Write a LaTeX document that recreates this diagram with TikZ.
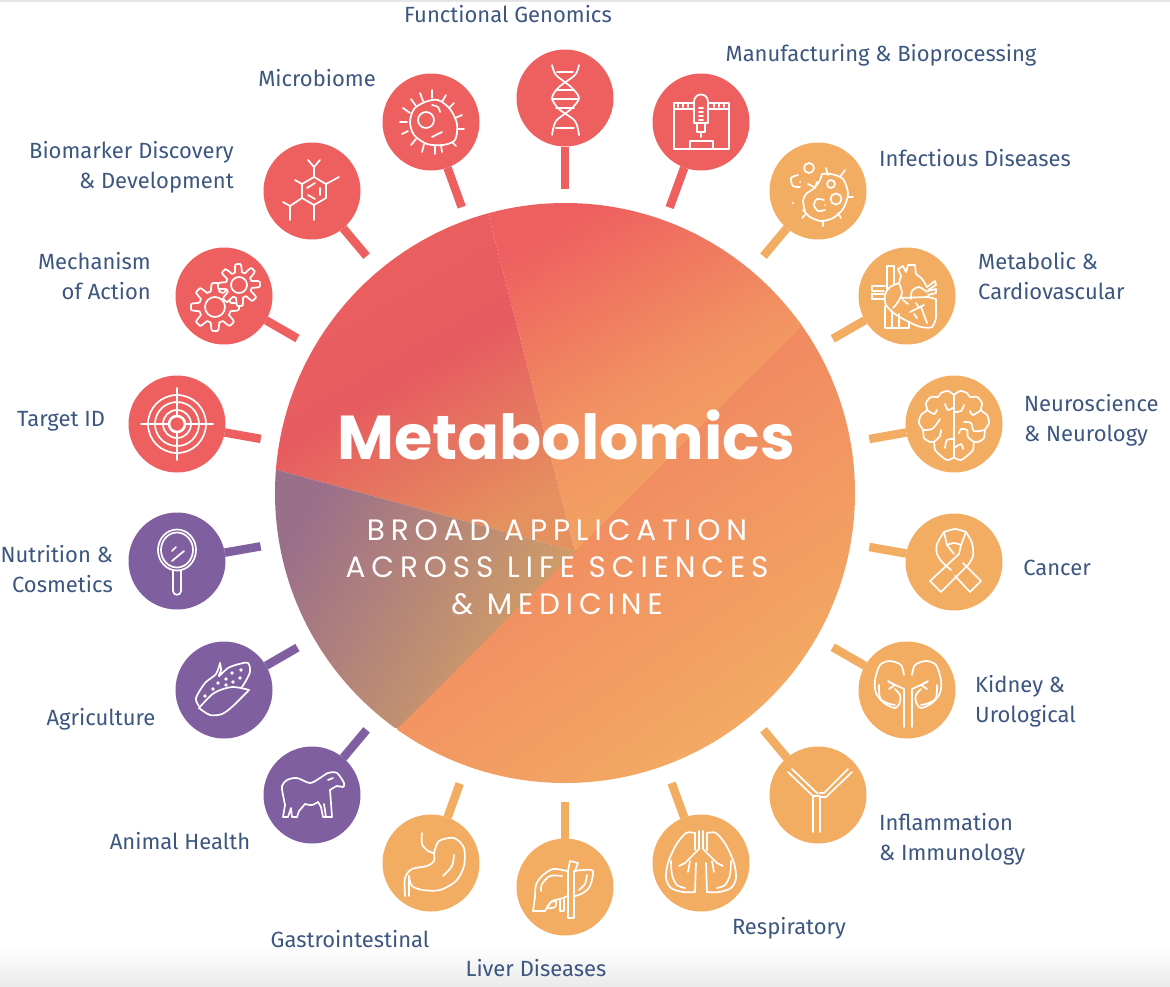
\documentclass[tikz,border=0pt]{standalone}
\usepackage{fontspec}
\setmainfont{Fira Sans}
\newfontfamily\titlefont{Poppins}
\newfontfamily\widefont[LetterSpace=20]{Poppins}

\begin{document}
\begin{tikzpicture}[x=1pt,y=-1pt]

\definecolor{redc}{HTML}{EE5F5F} % coral
\definecolor{ambc}{HTML}{F3AD63} % amber
\definecolor{plmc}{HTML}{7F5FA0} % plum
\definecolor{txtc}{HTML}{3C5680} % slate blue
\definecolor{wedgea}{HTML}{E65C60} % dull red
\definecolor{wedgeb}{HTML}{E5905F} % dull orange
\definecolor{wedgec}{HTML}{9A6F8A} % grey plum
\definecolor{wedged}{HTML}{D8A262} % tan

\tikzstyle{hub}=[circle,minimum size=580,inner sep=0,outer sep=0]
\tikzstyle{spot}=[circle,minimum size=97,inner sep=0,outer sep=0]
\tikzstyle{redspot}=[spot,fill=redc]
\tikzstyle{ambspot}=[spot,fill=ambc]
\tikzstyle{plmspot}=[spot,fill=plmc]

\tikzstyle{stem}=[line width=8.5,shorten >=19]
\tikzstyle{redstem}=[stem,color=redc]
\tikzstyle{ambstem}=[stem,color=ambc]
\tikzstyle{plmstem}=[stem,color=plmc]

\tikzstyle{tag}=[text=txtc,inner sep=0,align=center,
	font=\fontsize{22}{30}\selectfont]
\tikzstyle{icon}=[draw=white,line width=1.7,line join=round,line cap=round]

\useasboundingbox (0,0) rectangle (1170,986);

% screenshot edges
\fill [color=black!10] (0,0) rectangle (1170,2);
\shade [top color=white,bottom color=black!8] (0,945) rectangle (1170,986);

\node (hub) at (565,493) [hub] {};

\begin{scope}
  \clip (565,493) circle (290);
  \shade [top color=ambc!25!redc,bottom color=ambc,shading angle=35]
    (870,250) -- (380,746) -- (380,800) -- (870,800) -- cycle;
  \shade [top color=redc,bottom color=ambc,middle color=ambc!65!redc,shading angle=30]
    (575,551) -- (482,190) -- (860,190) -- (860,268) -- cycle;
  \shade [top color=redc,bottom color=wedgeb,middle color=wedgea,shading angle=30]
    (575,551) -- (270,468) -- (270,190) -- (482,190) -- cycle;
  \shade [left color=wedgec,right color=wedged,shading angle=60]
    (575,551) -- (398,728) -- (270,728) -- (270,468) -- cycle;
\end{scope}

\node (title) at (566,435) [text=white]
  {\fontsize{62}{70}\titlefont\bfseries Metabolomics};
\node (line1) at (557,530) [text=white] {\fontsize{29.5}{30}\widefont BROAD APPLICATION};
\node (line2) at (557,567) [text=white] {\fontsize{29.5}{30}\widefont ACROSS LIFE SCIENCES};
\node (line3) at (557,604) [text=white] {\fontsize{29.5}{30}\widefont \& MEDICINE};

\node (genomics) at (565,98)   [redspot] {};
\node (bioproc)  at (701,122)  [redspot] {};
\node (infect)   at (818,191)  [ambspot] {};
\node (cardio)   at (907,296)  [ambspot] {};
\node (neuro)    at (954,424)  [ambspot] {};
\node (cancer)   at (954,562)  [ambspot] {};
\node (kidney)   at (907,690)  [ambspot] {};
\node (immuno)   at (818,795)  [ambspot] {};
\node (resp)     at (701,863)  [ambspot] {};
\node (liver)    at (565,887)  [ambspot] {};
\node (gastro)   at (431,863)  [ambspot] {};
\node (animal)   at (312,795)  [plmspot] {};
\node (agri)     at (224,690)  [plmspot] {};
\node (cosmet)   at (177,561)  [plmspot] {};
\node (target)   at (177,424)  [redspot] {};
\node (action)   at (224,296)  [redspot] {};
\node (biomark)  at (312,191)  [redspot] {};
\node (microb)   at (431,122)  [redspot] {};

\path (genomics) edge [redstem,shorten >=14] (hub)
      (bioproc)  edge [redstem,shorten >=14] (hub)
      (infect)   edge [ambstem] (hub)
      (cardio)   edge [ambstem] (hub)
      (neuro)    edge [ambstem] (hub)
      (cancer)   edge [ambstem] (hub)
      (kidney)   edge [ambstem] (hub)
      (immuno)   edge [ambstem] (hub)
      (resp)     edge [ambstem] (hub)
      (liver)    edge [ambstem] (hub)
      (gastro)   edge [ambstem] (hub)
      (animal)   edge [plmstem] (hub)
      (agri)     edge [plmstem] (hub)
      (cosmet)   edge [plmstem] (hub)
      (target)   edge [redstem] (hub)
      (action)   edge [redstem] (hub)
      (biomark)  edge [redstem] (hub)
      (microb)   edge [redstem,shorten >=14] (hub);

\node (tgenomics) at (508,14)  [tag] {Functional Genomics};
\node (tbioproc)  at (881,55)  [tag] {Manufacturing \& Bioprocessing};
\node (tinfect)   at (975,158) [tag] {Infectious Diseases};
\node (tcardio)   at (978,276) [tag,anchor=west,align=left] {Metabolic \&\\Cardiovascular};
\node (tneuro)    at (1024,420) [tag,anchor=west,align=left] {Neuroscience\\\& Neurology};
\node (tcancer)   at (1057,568) [tag] {Cancer};
\node (tkidney)   at (975,701) [tag,anchor=west,align=left] {Kidney \&\\Urological};
\node (timmuno)   at (879,839) [tag,anchor=west,align=left] {Inflammation\\\& Immunology};
\node (tresp)     at (789,928) [tag] {Respiratory};
\node (tliver)    at (536,968) [tag] {Liver Diseases};
\node (tgastro)   at (350,939) [tag] {Gastrointestinal};
\node (tanimal)   at (180,841) [tag] {Animal Health};
\node (tagri)     at (101,719) [tag] {Agriculture};
\node (tcosmet)   at (113,569) [tag,anchor=east,align=right] {Nutrition \&\\Cosmetics};
\node (ttarget)   at (61,421)  [tag] {Target ID};
\node (taction)   at (151,276) [tag,anchor=east,align=right] {Mechanism\\of Action};
\node (tbiomark)  at (234,167) [tag,anchor=east,align=right] {Biomarker Discovery\\\& Development};
\node (tmicrob)   at (317,78)  [tag] {Microbiome};

% dna
\begin{scope}[shift={(565,98)},icon]
  \draw plot [smooth] coordinates {(-13,-33) (-9,-23) (6,-11) (14,0) (6,11) (-9,23) (-13,37)};
  \draw plot [smooth] coordinates {(14,-33) (10,-23) (-6,-11) (-13,0) (-6,11) (10,23) (14,37)};
  \draw (-8,-26) -- (8,-26) (-9,-8) -- (9,-8) (-13,1) -- (13,1) (-9,10) -- (9,10) (-9,30) -- (9,30);
\end{scope}

% microbe
\begin{scope}[shift={(431,122)},icon]
  \draw plot [smooth cycle] coordinates {(-21,0) (-17,-13) (-6,-20) (7,-22) (19,-13) (26,2) (24,18) (12,23) (-4,22) (-17,13)};
  \draw (-5,-2) circle (8);
  \draw (-31,0) -- (-24,0) (-28,-14) -- (-21,-9) (-20,-23) -- (-15,-16) (-11,-29) -- (-8,-21)
        (1,-32) -- (1,-24) (15,-27) -- (11,-20) (23,-19) -- (18,-14) (31,-7) -- (24,-4)
        (33,7) -- (27,7) (25,24) -- (21,20) (11,30) -- (10,23) (4,32) -- (4,23)
        (-9,30) -- (-7,22) (-20,23) -- (-15,17) (-29,12) -- (-23,9);
  \draw plot [smooth] coordinates {(1,-17) (7,-15) (9,-10)};
  \draw plot [smooth] coordinates {(1,15) (7,12) (11,10)};
\end{scope}

% printer
\begin{scope}[shift={(701,122)},icon]
  \draw (-27,-19) rectangle (28,27);
  \draw (-27,-13) -- (-7,-13) (7,-13) -- (28,-13);
  \draw (-23,-19) -- (-23,-15) (-18,-19) -- (-18,-15) (-13,-19) -- (-13,-15)
        (13,-19) -- (13,-15) (18,-19) -- (18,-15) (23,-19) -- (23,-15);
  \draw [fill=redc] (-7,1) -- (-7,-20) .. controls (-7,-30) and (7,-30) .. (7,-20) -- (7,1) -- cycle;
  \draw (-4,1) -- (-4,10) -- (4,10) -- (4,1) (0,10) -- (0,15);
  \draw (-2,-14) -- (2,-14) (-2,-10) -- (2,-10) (-2,-6) -- (2,-6) (-2,-2) -- (2,-2);
  \draw (-11,27) -- (-11,19) -- (12,19) -- (12,27);
\end{scope}

% bacteria
\begin{scope}[shift={(818,191)},icon]
  \draw plot [smooth] coordinates {(4,-17) (13,-17) (25,-12) (30,3) (25,18) (15,27) (3,30) (-8,26) (-15,19)};
  \draw plot [smooth] coordinates {(4,-17) (1,-9) (-5,-2) (-12,3) (-15,10) (-13,20)};
  \draw (8,-23) -- (10,-16) (27,-21) -- (22,-14) (30,6) -- (35,6) (20,22) -- (23,27)
        (5,30) -- (5,35) (-13,24) -- (-16,27) (-10,-7) -- (-4,-4) (-1,-9) -- (-3,-3);
  \draw (-9,-23) circle (5) (18,8) circle (5.5) (13,-7) circle (4);
  \draw plot [smooth] coordinates {(-20,-16) (-27,-13) (-25,-5) (-18,-4)};
  \draw plot [smooth] coordinates {(6,9) (-1,8) (-4,14) (0,20) (7,19)};
  \fill [white] (-25,12) circle (1.2) (-18,-9) circle (1) (7,14) circle (1);
\end{scope}

% heart
\begin{scope}[shift={(907,296)},icon]
  \draw (-20,-6) -- (-20,-30) -- (-13,-30) -- (-13,-11);
  \draw (-22,-10) -- (-35,-10) -- (-35,-5) -- (-23,-5) (-23,-2) -- (-35,-2) -- (-35,3) -- (-23,3);
  \draw plot [smooth] coordinates {(-8,-13) (-17,-9) (-22,-1) (-21,9) (-12,18) (2,26) (14,31) (25,31) (29,22)};
  \draw (29,22) -- (29,3) -- (21,1);
  \draw plot [smooth] coordinates {(-8,-13) (-5,-3) (-9,6) (-14,12)};
  \draw (-8,-13) -- (-6,-20) -- (-9,-27) -- (-4,-30) -- (-1,-24) -- (1,-31) -- (8,-31) -- (9,-22);
  \draw plot [smooth] coordinates {(9,-22) (15,-17) (20,-9)};
  \draw (20,-9) -- (28,-15) -- (29,-11) -- (21,-6) (21,-5) -- (29,-7) -- (29,-3) -- (21,-1);
  \draw plot [smooth] coordinates {(20,-4) (12,-9) (5,-5) (4,3)};
  \draw (-7,2) -- (21,1);
  \draw (-4,4) -- (1,8) (14,11) -- (20,27) (3,16) -- (17,9) (9,7) -- (12,12) (7,18) -- (10,22);
  \draw (-22,10) -- (-22,32) -- (-8,32) -- (-8,18) (-15,15) -- (-15,32) (-8,32) -- (2,32) -- (2,26);
\end{scope}

% brain
\begin{scope}[shift={(954,424)},icon]
  \draw (0,-30) -- (0,34);
  \draw plot [smooth] coordinates {(0,-29) (-6,-33) (-13,-31) (-16,-27) (-23,-27) (-28,-21) (-27,-14) (-33,-9) (-35,-1) (-31,6) (-30,14) (-24,18) (-20,18) (-19,26) (-14,31) (-7,36) (-1,34)};
  \draw plot [smooth] coordinates {(0,-29) (6,-33) (13,-31) (16,-27) (23,-27) (28,-21) (27,-14) (33,-9) (35,-1) (31,6) (30,14) (24,18) (20,18) (19,26) (14,31) (7,36) (1,34)};
  \draw plot [smooth] coordinates {(0,-17) (-6,-14) (-9,-20)};
  \draw plot [smooth] coordinates {(-27,-14) (-20,-10) (-17,-14)};
  \draw plot [smooth] coordinates {(-31,6) (-22,5) (-16,-2) (-14,-5)};
  \draw plot [smooth] coordinates {(-20,18) (-14,12) (-13,6)};
  \draw plot [smooth] coordinates {(0,15) (-7,16) (-9,24)};
  \draw plot [smooth] coordinates {(0,-12) (7,-13) (10,-19)};
  \draw plot [smooth] coordinates {(27,-14) (19,-9) (16,-13)};
  \draw plot [smooth] coordinates {(10,-2) (17,-1) (20,7) (31,6)};
  \draw plot [smooth] coordinates {(20,18) (14,13) (13,6) (7,5) (5,9)};
  \draw plot [smooth] coordinates {(0,24) (7,20) (9,25)};
\end{scope}

% ribbon
\begin{scope}[shift={(954,562)},icon]
  \draw (5,-8) -- (-24,19) -- (-13,30) -- (14,3);
  \draw plot [smooth] coordinates {(14,3) (19,-6) (18,-19) (12,-30)};
  \draw plot [smooth] coordinates {(12,-30) (1,-33) (-10,-30)};
  \draw plot [smooth] coordinates {(-10,-30) (-17,-18) (-17,-8) (-12,0)};
  \draw (-12,0) -- (-3,8) (1,14) -- (16,30) -- (27,19) -- (9,1);
  \draw plot [smooth] coordinates {(-7,-17) (0,-19) (7,-17)};
  \draw (-10,-30) -- (-7,-17) -- (0,-8) (12,-30) -- (7,-17) -- (5,-8);
\end{scope}

% kidney
\begin{scope}[shift={(907,690)},icon]
  \draw plot [smooth] coordinates {(-3,-15) (-6,-25) (-17,-29) (-27,-25) (-32,-10) (-31,3) (-23,13) (-12,18) (-7,12) (-7,5) (-12,-1)};
  \draw plot [smooth] coordinates {(5,-15) (8,-25) (19,-29) (29,-25) (34,-10) (33,3) (25,13) (14,18) (9,12) (9,5) (14,-1)};
  \draw (-3,37) -- (-3,-1) -- (-18,-8) (5,37) -- (5,-1) -- (20,-8);
  \draw (-12,-5) -- (-19,-9) (-12,-5) -- (-18,-1) (14,-5) -- (21,-9) (14,-5) -- (20,-1);
  \draw plot [smooth] coordinates {(-28,-5) (-27,8) (-20,13) (-12,15)};
  \draw plot [smooth] coordinates {(30,-5) (29,8) (22,13) (14,15)};
\end{scope}

% antibody
\begin{scope}[shift={(818,795)},icon]
  \draw (-30,-23) -- (-5,1) -- (-5,37) (-26,-26) -- (-1,-2) -- (0,-2);
  \draw (30,-26) -- (6,-2) -- (2,-2) (34,-23) -- (8,2) -- (2,2) -- (2,37);
  \draw (-5,1) -- (2,1);
\end{scope}

% lungs
\begin{scope}[shift={(701,863)},icon]
  \draw (-2,-32) -- (-2,-14) -- (-16,0) (2,-32) -- (2,-14) -- (16,0);
  \draw (-22,3) -- (-16,0) (22,3) -- (16,0) (-11,-2) -- (-13,9) (11,-2) -- (13,9);
  \draw plot [smooth] coordinates {(-6,-30) (-15,-30) (-25,-18) (-33,0) (-35,15) (-30,25) (-18,29) (-6,29)};
  \draw plot [smooth] coordinates {(6,-30) (15,-30) (25,-18) (33,0) (35,15) (30,25) (18,29) (6,29)};
  \draw (-6,-30) -- (-6,-13) (6,-30) -- (6,-13) (-6,29) -- (-5,0) (6,29) -- (5,0);
  \draw plot [smooth] coordinates {(-30,-2) (-29,12) (-24,22) (-16,25)};
  \draw plot [smooth] coordinates {(30,-2) (29,12) (24,22) (16,25)};
\end{scope}

% liver
\begin{scope}[shift={(565,887)},icon]
  \draw plot [smooth] coordinates {(2,-16) (-12,-18) (-23,-11) (-29,-2) (-30,10)};
  \draw (-30,10) -- (-32,24) -- (-20,24);
  \draw plot [smooth] coordinates {(-20,24) (-13,14) (-5,12) (3,9)};
  \draw (3,31) -- (9,31) -- (9,-16) (3,31) -- (3,-16) -- (5,-26) -- (13,-24) -- (10,-16);
  \draw plot [smooth] coordinates {(9,-16) (18,-17) (28,-16) (25,-1) (18,6) (10,9)};
  \draw plot [smooth] coordinates {(-3,-11) (-15,-11) (-23,-3) (-24,4)};
  \draw plot [smooth] coordinates {(22,-12) (20,-3) (14,3)};
  \draw plot [smooth cycle] coordinates {(-18,21) (-14,15) (-9,14) (-10,20)};
  \draw (-5,13) -- (-5,24) -- (-1,24) -- (-1,12);
\end{scope}

% stomach
\begin{scope}[shift={(431,863)},icon]
  \draw plot [smooth] coordinates {(-9,-30) (-9,-19) (-3,-12) (3,-10)};
  \draw plot [smooth] coordinates {(3,-10) (8,-22) (23,-25) (33,-15) (33,3) (25,18) (9,27) (-8,27) (-19,23) (-22,13)};
  \draw plot [smooth] coordinates {(-26,33) (-26,15) (-19,6) (-4,3) (3,-2) (3,-10)};
  \draw (-22,13) -- (-22,33);
  \draw plot [smooth] coordinates {(23,-8) (21,3) (12,13)};
\end{scope}

% sheep
\begin{scope}[shift={(312,795)},icon]
  \draw plot [smooth] coordinates {(-29,0) (-30,-9) (-25,-15) (-15,-17) (-2,-12) (8,-17) (16,-22) (25,-22) (32,-12) (31,-8) (25,-9) (18,-5)};
  \draw (18,-5) -- (19,8) -- (20,22) -- (11,22) -- (9,12) -- (6,7);
  \draw plot [smooth] coordinates {(6,7) (0,10) (-7,9)};
  \draw (-7,9) -- (-13,16) -- (-15,22) -- (-20,22) -- (-21,13) -- (-24,22) -- (-29,22) -- (-27,10) -- (-29,0);
  \draw (12,9) -- (14,22) (16,-15) -- (21,-17);
\end{scope}

% corn
\begin{scope}[shift={(224,690)},icon]
  \draw plot [smooth] coordinates {(-25,18) (-14,25) (-2,24) (9,16) (25,0)};
  \draw plot [smooth] coordinates {(25,0) (8,-3) (-10,3) (-25,18)};
  \draw plot [smooth] coordinates {(-25,16) (-28,8) (-19,-7) (-8,-16) (-4,-27)};
  \draw plot [smooth] coordinates {(-4,-27) (-3,-20) (-5,-14) (4,-22) (15,-26) (24,-27) (26,-18) (20,-6) (17,-2)};
  \fill [white] (-19,6) circle (1.9) (-11,-1) circle (1.9) (-6,-7) circle (1.9) (2,-11) circle (1.9)
    (8,-17) circle (1.9) (17,-20) circle (1.9) (2,-5) circle (1.9) (9,-8) circle (1.9) (16,-12) circle (1.9);
\end{scope}

% mirror
\begin{scope}[shift={(177,561)},icon]
  \draw (0,-11) ellipse (19 and 20.5);
  \draw (0,-11) ellipse (16 and 17.5);
  \draw (-4,9) -- (-4,30) .. controls (-4,35) and (4,35) .. (4,30) -- (4,9);
  \draw (-5,0) -- (7,-10) (-5,-10) -- (-1,-14);
\end{scope}

% target
\begin{scope}[shift={(177,424)},icon]
  \draw (0,0) circle (29) (0,0) circle (22) (0,0) circle (14);
  \draw [line width=2.6] (0,0) circle (8);
  \draw (-36,0) -- (-8,0) (8,0) -- (36,0) (0,-36) -- (0,-8) (0,8) -- (0,36);
\end{scope}

% gears
\begin{scope}[shift={(224,296)},icon]
  \draw plot [samples=121,domain=0:357,smooth]
    ({-9+(20+4*max(-1,min(1,2*cos(8*\x))))*cos(\x)},{11+(20+4*max(-1,min(1,2*cos(8*\x))))*sin(\x)}) -- cycle;
  \draw (-9,11) circle (10);
  \draw [fill=redc] plot [samples=121,domain=0:357,smooth]
    ({15+(17+4*max(-1,min(1,2*cos(8*\x+20))))*cos(\x)},{-11+(17+4*max(-1,min(1,2*cos(8*\x+20))))*sin(\x)}) -- cycle;
  \draw (15,-11) circle (8);
\end{scope}

% molecule
\begin{scope}[shift={(312,191)},icon]
  \draw (2,-14) -- (14,-7) -- (14,7) -- (2,14) -- (-10,7) -- (-10,-7) -- cycle;
  \draw (-5,-3) -- (3,-8) (8,-3) -- (8,4) (-4,4) -- (3,8);
  \draw (2,-14) -- (2,-24) -- (-4,-31) (2,-24) -- (8,-31);
  \draw (14,-7) -- (27,-14) (-10,-7) -- (-17,-11) (-10,7) -- (-22,15) -- (-29,11) (-22,15) -- (-22,29) (2,14) -- (2,29);
\end{scope}

\end{tikzpicture}
\end{document}
